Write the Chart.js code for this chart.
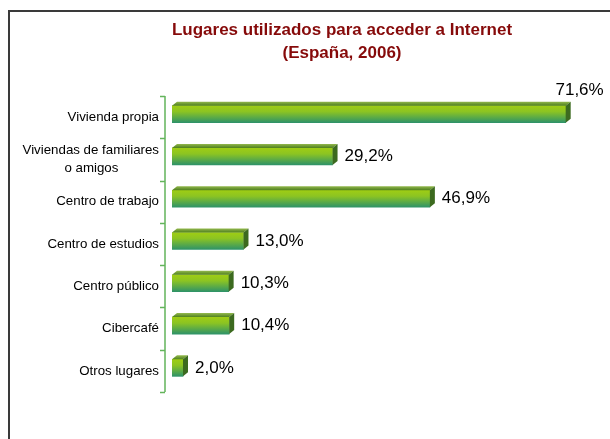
<!DOCTYPE html>
<html>
<head>
<meta charset="utf-8">
<script src="https://cdn.jsdelivr.net/npm/chart.js@4/dist/chart.umd.min.js"></script>
<style>
  html, body { margin: 0; padding: 0; background: #fff; overflow: hidden; width: 610px; height: 439px; }
  #frame { position: absolute; left: 8px; top: 10px; width: 680px; height: 440px;
           border-left: 2px solid #3a3a3a; border-top: 2px solid #3a3a3a; box-sizing: border-box; }
  #c { position: absolute; left: 0; top: 0; }
</style>
</head>
<body>
<div id="frame"><canvas id="c" width="668" height="427"></canvas></div>
<script>
const categories = [
  'Vivienda propia',
  ['Viviendas de familiares', 'o amigos'],
  'Centro de trabajo',
  'Centro de estudios',
  'Centro público',
  'Cibercafé',
  'Otros lugares'
];
const values = [71.6, 29.2, 46.9, 13.0, 10.3, 10.4, 2.0];
const titleLines = ['Lugares utilizados para acceder a Internet', '(España, 2006)'];

const FAMILY = "'Liberation Sans', Arial, sans-serif";
const LABEL_SIZE = 13.3;
const LABEL_FONT = LABEL_SIZE + 'px ' + FAMILY;

// center shorter lines of multi-line labels by padding with trailing spaces
const mctx = document.createElement('canvas').getContext('2d');
mctx.font = LABEL_FONT;
function centerLines(lbl) {
  if (!Array.isArray(lbl)) return lbl;
  const w = Math.max(...lbl.map(s => mctx.measureText(s).width));
  const sp = mctx.measureText(' ').width;
  return lbl.map(s => {
    const n = Math.round((w - mctx.measureText(s).width) / 2 / sp);
    return s + ' '.repeat(n);
  });
}

const FACE_H = 17, DX = 5, DY = 4;

const bar3d = {
  id: 'bar3d',
  beforeDatasetsDraw(chart) {
    const { ctx, chartArea, scales: { y } } = chart;
    const off = 3;
    const ax = chartArea.left - 7;
    ctx.save();
    ctx.strokeStyle = '#63b45b';
    ctx.lineWidth = 1.5;
    ctx.beginPath();
    ctx.moveTo(ax, y.getPixelForValue(-0.5) + off);
    ctx.lineTo(ax, y.getPixelForValue(categories.length - 0.5) + off);
    for (let i = 0; i <= categories.length; i++) {
      const yy = Math.round(y.getPixelForValue(i - 0.5) + off) + 0.5;
      ctx.moveTo(ax - 5, yy);
      ctx.lineTo(ax, yy);
    }
    ctx.stroke();
    ctx.restore();
  },
  afterDatasetsDraw(chart) {
    const { ctx } = chart;
    const meta = chart.getDatasetMeta(0);
    ctx.save();
    meta.data.forEach((el, i) => {
      const p = el.getProps(['x', 'y', 'base', 'height'], true);
      const top = p.y - p.height / 2, bottom = p.y + p.height / 2;
      // top face
      const g = ctx.createLinearGradient(0, top - DY, 0, top);
      g.addColorStop(0, '#93b94c');
      g.addColorStop(1, '#4f7f1f');
      ctx.fillStyle = g;
      ctx.beginPath();
      ctx.moveTo(p.base, top);
      ctx.lineTo(p.x, top);
      ctx.lineTo(p.x + DX, top - DY);
      ctx.lineTo(p.base + DX, top - DY);
      ctx.closePath();
      ctx.fill();
      // side face
      ctx.fillStyle = '#3c6a1f';
      ctx.beginPath();
      ctx.moveTo(p.x, top);
      ctx.lineTo(p.x + DX, top - DY);
      ctx.lineTo(p.x + DX, bottom - DY);
      ctx.lineTo(p.x, bottom);
      ctx.closePath();
      ctx.fill();
      // value label
      const txt = values[i].toFixed(1).replace('.', ',') + '%';
      ctx.font = '17px ' + FAMILY;
      ctx.fillStyle = '#000';
      ctx.textBaseline = 'middle';
      const w = ctx.measureText(txt).width;
      const tx = p.x + DX + 7;
      if (tx + w > 596) {
        ctx.textAlign = 'right';
        ctx.fillText(txt, p.x + 38, p.y - 24);
      } else {
        ctx.textAlign = 'left';
        ctx.fillText(txt, tx, p.y);
      }
    });
    ctx.restore();
  }
};

new Chart(document.getElementById('c'), {
  type: 'bar',
  data: {
    labels: categories,
    datasets: [{
      data: values,
      barThickness: FACE_H,
      borderWidth: 0,
      backgroundColor: (c) => {
        const chart = c.chart;
        const ys = chart.scales && chart.scales.y;
        if (!chart.chartArea || !ys) return '#7cbc2c';
        const cy = ys.getPixelForValue(c.dataIndex);
        const g = chart.ctx.createLinearGradient(0, cy - FACE_H / 2, 0, cy + FACE_H / 2);
        g.addColorStop(0, '#9fcd14');
        g.addColorStop(0.35, '#8cc422');
        g.addColorStop(1, '#2f9368');
        return g;
      }
    }]
  },
  options: {
    indexAxis: 'y',
    responsive: false,
    devicePixelRatio: 1,
    animation: false,
    layout: { padding: { left: 0, right: 4, top: 0, bottom: 50 } },
    plugins: {
      legend: { display: false },
      tooltip: { enabled: false },
      title: {
        display: true,
        text: titleLines,
        color: '#860a0a',
        font: { family: FAMILY, size: 17, weight: 'bold', lineHeight: 1.335 },
        padding: { top: 7.3, bottom: 28.3 }
      }
    },
    scales: {
      x: { display: false, min: 0, max: 91.3 },
      y: {
        grid: { display: false, drawTicks: false },
        border: { display: false },
        afterFit: (s) => { s.width = 162; },
        ticks: {
          padding: 13,
          labelOffset: 3,
          color: '#000',
          font: { family: FAMILY, size: LABEL_SIZE, lineHeight: 1.3 },
          callback: function (v, i) { return centerLines(categories[i]); }
        }
      }
    }
  },
  plugins: [bar3d]
});
</script>
</body>
</html>
